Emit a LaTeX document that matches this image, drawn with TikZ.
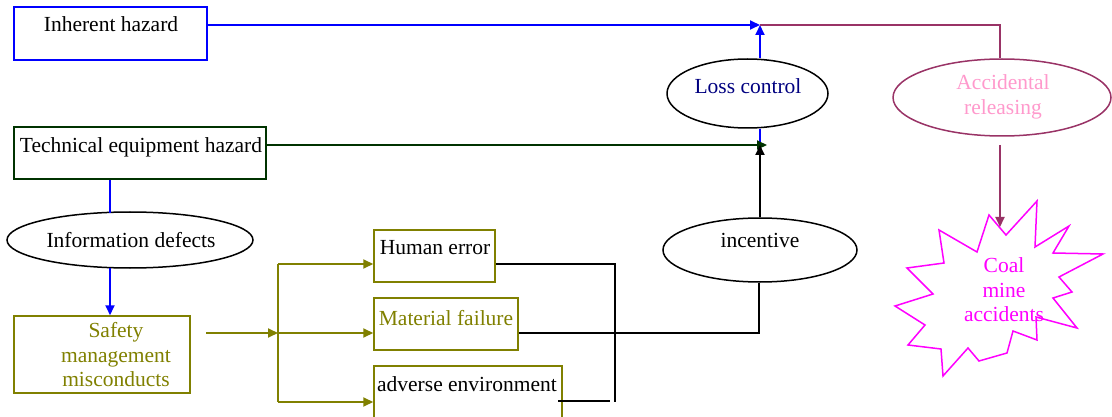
\documentclass[tikz,border=0pt]{standalone}
\usepackage{fontspec}
\setmainfont{Liberation Serif}
\usetikzlibrary{arrows.meta}
\definecolor{dgreen}{HTML}{003300}
\definecolor{olive}{HTML}{808000}
\definecolor{plum}{HTML}{993366}
\definecolor{pinky}{HTML}{FF99CC}
\definecolor{navy}{HTML}{000080}
\definecolor{mag}{HTML}{FF00FF}
\tikzset{
  box/.style={draw, line width=1.5pt, minimum width=#1, inner sep=0pt},
  oval/.style={draw, ellipse, line width=1.5pt, inner sep=0pt},
  txt/.style={font=\fontsize{21.5}{24.5}\selectfont, inner sep=0pt, align=center},
  conn/.style={line width=1.8pt},
  arr/.style={line width=1.8pt, -{Triangle[length=10pt,width=9pt]}},
}
\usetikzlibrary{shapes.geometric}
\begin{document}
\begin{tikzpicture}[x=1pt,y=-1pt]
\useasboundingbox (0,0) rectangle (1112,417);
\clip (0,0) rectangle (1112,417);
% boxes
\node[box=193pt, minimum height=53pt, draw=blue] (ih) at (110.5,33.5) {};
\node[txt] (iht) at (111,24) {Inherent hazard};
\node[box=252pt, minimum height=52pt, draw=dgreen] (te) at (140,153) {};
\node[txt] (tet) at (141,147) {Technical equipment hazard};
\node[oval, minimum width=246pt, minimum height=56pt] (inf) at (130,240) {};
\node[txt] (inft) at (131,240) {Information defects};
\node[box=176pt, minimum height=77pt, draw=olive] (sm) at (102,354.5) {};
\node[txt, text=olive] (smt) at (116,355) {Safety\\management\\misconducts};
\node[box=121pt, minimum height=52pt, draw=olive] (he) at (434.5,256) {};
\node[txt] (het) at (435,248) {Human error};
\node[box=144pt, minimum height=52pt, draw=olive] (mf) at (446,324) {};
\node[txt, text=olive] (mft) at (446,318) {Material failure};
\node[box=188pt, minimum height=60pt, draw=olive] (ae) at (468,396) {};
\node[txt] (aet) at (467,384) {adverse environment};
\node[oval, minimum width=161pt, minimum height=69pt] (lc) at (747.5,93.5) {};
\node[txt, text=navy] (lct) at (748,86) {Loss control};
\node[oval, minimum width=218pt, minimum height=77pt, draw=plum] (ar) at (1002,97.5) {};
\node[txt, text=pinky] (art) at (1003,97) {Accidental\\releasing};
\node[oval, minimum width=194pt, minimum height=64pt] (inc) at (760,250) {};
\node[txt] (inct) at (760,240) {incentive};
% star
\draw[mag, line width=1.5pt] (989,215) -- (1006,235) -- (1037,201) -- (1035,247) -- (1069,226) -- (1053,253) -- (1103,254) -- (1059,277) -- (1072,292) -- (1053,298) -- (1077,328) -- (1036,317) -- (1037,340) -- (1013,331) -- (1007,353) -- (979,361) -- (968,348) -- (943,376) -- (941,349) -- (908,345) -- (925,325) -- (895,306) -- (933,294) -- (907,268) -- (944,263) -- (939,230) -- (977,252) -- cycle;
\node[txt, text=mag] (cm) at (1004,290) {Coal\\mine\\accidents};
% junction coordinates
\coordinate (j1) at (760,25);
\coordinate (j2) at (760,145);
\coordinate (j2g) at (767,145);
\coordinate (arb) at (1000,145);
\coordinate (sttop) at (1000,227);
\coordinate (sp) at (278,333);
\coordinate (sa) at (206,333);
\coordinate (ib) at (110,268);
% connectors
\draw[arr, blue] (ih.east |- j1) -- (j1);
\draw[arr, blue] (lc.north -| j1) -- (j1);
\draw[conn, blue] (lc.south -| j1) -- (j2);
\draw[conn, plum] (j1) -- (1000,25) -- (ar.north -| arb);
\draw[arr, plum] (arb) -- (sttop);
\draw[arr, dgreen] (te.east |- j2) -- (j2g);
\draw[arr, black] (inc.north -| j2) -- (j2);
\draw[conn, blue] (te.south -| ib) -- (110,213);
\draw[arr, blue] (ib) -- (sm.north -| ib);
\draw[arr, olive] (sa) -- (sp);
\draw[conn, olive] (278,264) -- (278,402);
\draw[arr, olive] (278,264) -- (he.west |- 0,264);
\draw[arr, olive] (sp) -- (mf.west |- sp);
\draw[arr, olive] (278,402) -- (ae.west |- 0,402);
\draw[conn] (he.east |- 0,264) -- (615,264) -- (615,402);
\draw[conn] (558,401) -- (610,401);
\draw[conn] (mf.east |- 0,333) -- (759,333) -- (inc.south -| 759,0);
\end{tikzpicture}
\end{document}
